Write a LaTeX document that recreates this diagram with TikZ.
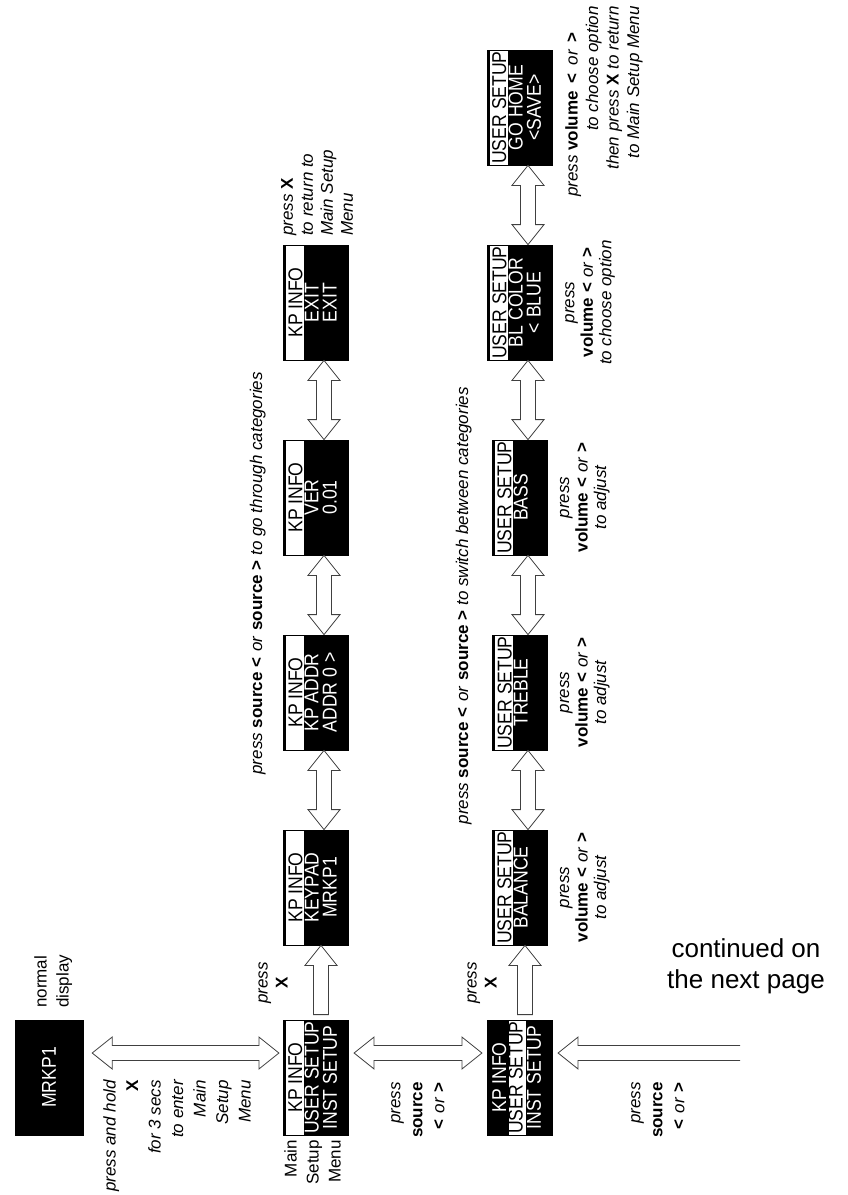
\documentclass[tikz,border=0pt]{standalone}
\usepackage{fontspec}
\setmainfont{Liberation Sans}
\newfontfamily\lcdfont{Liberation Sans}[FakeStretch=0.88]
\usetikzlibrary{calc, positioning, shapes.multipart}

% key names in bold, highlighted display row in black
\newcommand\btn[1]{\textbf{\upshape #1}}
\newcommand\hlrow[1]{\textcolor{black}{#1}}
% fixed row heights of the display
\newcommand\lcdA{\rule[-1.5pt]{0pt}{20pt}}
\newcommand\lcdB{\rule[-3.5pt]{0pt}{16.5pt}}
\newcommand\lcdC{\rule[-11.5pt]{0pt}{15pt}}
% hollow arrow sizes
\newcommand\shaftw{7.5pt}
\newcommand\headw{16pt}
\newcommand\headl{20pt}

\begin{document}
\begin{tikzpicture}[
    x=1pt, y=-1pt,
    lcd/.style={rectangle split, rectangle split parts=3, rotate=90,
                draw=black, line width=0.8pt, inner sep=0pt,
                minimum width=115pt, text=white,
                font=\lcdfont\fontsize{20pt}{18pt}\selectfont},
    hlfirst/.style={rectangle split part fill={white,black,black}},
    hlsecond/.style={rectangle split part fill={black,white,black}},
    screen/.style={rotate=90, draw=black, fill=black, text=white,
                   minimum width=115pt, minimum height=68pt, inner sep=0pt,
                   font=\lcdfont\fontsize{20pt}{18pt}\selectfont},
    lbl/.style={rotate=90, inner sep=0pt, font=\fontsize{17pt}{20pt}\selectfont\itshape},
    txt/.style={rotate=90, inner sep=0pt, font=\fontsize{17pt}{22pt}\selectfont},
    fatline/.style={draw=black!75, line width=0.8pt, fill=white},
    bothfat/.style={fatline, to path={
        -- ($(\tikztostart)!\headl!(\tikztotarget)!\headw!90:(\tikztotarget)$)
        -- ($(\tikztostart)!\headl!(\tikztotarget)!\shaftw!90:(\tikztotarget)$)
        -- ($(\tikztotarget)!\headl!(\tikztostart)!\shaftw!-90:(\tikztostart)$)
        -- ($(\tikztotarget)!\headl!(\tikztostart)!\headw!-90:(\tikztostart)$)
        -- (\tikztotarget)
        -- ($(\tikztotarget)!\headl!(\tikztostart)!\headw!90:(\tikztostart)$)
        -- ($(\tikztotarget)!\headl!(\tikztostart)!\shaftw!90:(\tikztostart)$)
        -- ($(\tikztostart)!\headl!(\tikztotarget)!\shaftw!-90:(\tikztotarget)$)
        -- ($(\tikztostart)!\headl!(\tikztotarget)!\headw!-90:(\tikztotarget)$)
        -- cycle}},
    onefat/.style={fatline, to path={
        -- ($(\tikztostart)!\shaftw!90:(\tikztotarget)$)
        -- ($(\tikztotarget)!\headl!(\tikztostart)!\shaftw!-90:(\tikztostart)$)
        -- ($(\tikztotarget)!\headl!(\tikztostart)!\headw!-90:(\tikztostart)$)
        -- (\tikztotarget)
        -- ($(\tikztotarget)!\headl!(\tikztostart)!\headw!90:(\tikztostart)$)
        -- ($(\tikztotarget)!\headl!(\tikztostart)!\shaftw!90:(\tikztostart)$)
        -- ($(\tikztostart)!\shaftw!-90:(\tikztotarget)$)
        -- cycle}},
    openfat/.style={fatline, to path={
        ($(\tikztostart)!\shaftw!90:(\tikztotarget)$)
        -- ($(\tikztotarget)!\headl!(\tikztostart)!\shaftw!-90:(\tikztostart)$)
        -- ($(\tikztotarget)!\headl!(\tikztostart)!\headw!-90:(\tikztostart)$)
        -- (\tikztotarget)
        -- ($(\tikztotarget)!\headl!(\tikztostart)!\headw!90:(\tikztostart)$)
        -- ($(\tikztotarget)!\headl!(\tikztostart)!\shaftw!90:(\tikztostart)$)
        -- ($(\tikztostart)!\shaftw!-90:(\tikztotarget)$)}},
]
\useasboundingbox (0,0) rectangle (848,1195);

% ---- normal display and main setup menu ----
\node[screen] (normal) at (49,1077.5) {MRKP1};
\node[lcd, hlfirst]  (mainA) at (316,1077.5) {\lcdA\hlrow{KP INFO}\nodepart{two}\lcdB USER SETUP\nodepart{three}\lcdC INST SETUP};
\node[lcd, hlsecond] (mainB) at (520,1077.5) {\lcdA KP INFO\nodepart{two}\lcdB\hlrow{USER SETUP}\nodepart{three}\lcdC INST SETUP};

% ---- KP INFO items ----
\node[lcd, hlfirst] (ka) at (316,887.5) {\lcdA\hlrow{KP INFO}\nodepart{two}\lcdB KEYPAD\nodepart{three}\lcdC MRKP1};
\node[lcd, hlfirst] (kb) at (316,692.5) {\lcdA\hlrow{KP INFO}\nodepart{two}\lcdB KP ADDR\nodepart{three}\lcdC ADDR 0 >};
\node[lcd, hlfirst] (kc) at (316,497.5) {\lcdA\hlrow{KP INFO}\nodepart{two}\lcdB VER\nodepart{three}\lcdC 0.01};
\node[lcd, hlfirst] (kd) at (316,302.5) {\lcdA\hlrow{KP INFO}\nodepart{two}\lcdB EXIT\nodepart{three}\lcdC EXIT};

% ---- USER SETUP items ----
\node[lcd, hlfirst] (ua) at (520,887.5) {\lcdA\hlrow{USER SETUP}\nodepart{two}\lcdB BALANCE\nodepart{three}\lcdC};
\node[lcd, hlfirst] (ub) at (520,692.5) {\lcdA\hlrow{USER SETUP}\nodepart{two}\lcdB TREBLE\nodepart{three}\lcdC};
\node[lcd, hlfirst] (uc) at (520,497.5) {\lcdA\hlrow{USER SETUP}\nodepart{two}\lcdB BASS\nodepart{three}\lcdC};
\node[lcd, hlfirst] (ud) at (520,302.5) {\lcdA\hlrow{USER SETUP}\nodepart{two}\lcdB BL COLOR\nodepart{three}\lcdC < BLUE};
\node[lcd, hlfirst] (ue) at (520,107.5) {\lcdA\hlrow{USER SETUP}\nodepart{two}\lcdB GO HOME\nodepart{three}\lcdC <SAVE>};

% thick edge above the highlighted row
\foreach \b in {mainA,ka,kb,kc,kd,ua,ub,uc,ud,ue}
    \draw[line width=3pt] ([xshift=1.5pt]\b.north west) -- ([xshift=1.5pt]\b.north east);

% ---- hollow arrows ----
\draw[bothfat] ([shift={(9pt,24.5pt)}]normal.south) to ([shift={(-4pt,24.5pt)}]mainA.north);
\draw[bothfat] ([shift={(5pt,24.5pt)}]mainA.south) to ([shift={(-5pt,24.5pt)}]mainB.north);
\coordinate (more) at (740,1053);
\draw[openfat] (more) to ([shift={(5pt,24.5pt)}]mainB.south);
\draw[onefat] ([shift={(5pt,5pt)}]mainA.east) to ([xshift=5pt]ka.west);
\draw[onefat] ([shift={(5pt,5pt)}]mainB.east) to ([xshift=5pt]ua.west);
\foreach \a/\b in {ka/kb, kb/kc, kc/kd, ua/ub, ub/uc, uc/ud, ud/ue}
    \draw[bothfat] ([xshift=8pt]\a.east) to ([xshift=8pt]\b.west);

% ---- labels ----
\node[txt, anchor=north west, align=left] (ndtxt) at (34,1008) {normal\\display};
\node[lbl, anchor=north east, align=right, font=\fontsize{17pt}{22.5pt}\selectfont\itshape]
    (holdtxt) at (103,1080) {press and hold\\\btn{X}\\for 3 secs\\to enter\\Main\\Setup\\Menu};
\node[txt, anchor=north east, align=right] (menutxt) at (284,1140) {Main\\Setup\\Menu};
\node[lbl, align=center] (pxa) at (273,983) {press\\\btn{X}};
\node[lbl, align=center] (pxb) at (482,983) {press\\\btn{X}};
\node[lbl, anchor=north east, align=right, font=\fontsize{17pt}{22pt}\selectfont\itshape]
    (srca) at (391,1082) {press\\\btn{source}\\\btn{<}\hspace{6pt}or\hspace{6pt}\btn{>}};
\node[lbl, anchor=north east, align=right, font=\fontsize{17pt}{22pt}\selectfont\itshape]
    (srcb) at (631,1082) {press\\\btn{source}\\\btn{<}\hspace{6pt}or\hspace{6pt}\btn{>}};
\node[lbl, anchor=base east] (cata) at (262,372)
    {press \btn{source <}\hspace{6pt}or\hspace{6pt}\btn{source >} to go through categories};
\node[lbl, anchor=base east] (catb) at (468,387)
    {press \btn{source <}\hspace{6pt}or\hspace{6pt}\btn{source >} to switch between categories};
\node[lbl, anchor=north west, align=left] (exittxt) at (281,236) {press \btn{X}\\to return to\\Main Setup\\Menu};
\node[lbl, anchor=north, align=center, font=\fontsize{17pt}{18.5pt}\selectfont\itshape]
    (vola) at ([xshift=12pt]ua.south) {press\\\btn{volume} \btn{<}\hspace{5pt}or\hspace{5pt}\btn{>}\\to adjust};
\node[lbl, anchor=north, align=center, font=\fontsize{17pt}{18.5pt}\selectfont\itshape]
    (volb) at ([xshift=12pt]ub.south) {press\\\btn{volume} \btn{<}\hspace{5pt}or\hspace{5pt}\btn{>}\\to adjust};
\node[lbl, anchor=north, align=center, font=\fontsize{17pt}{18.5pt}\selectfont\itshape]
    (volc) at ([xshift=12pt]uc.south) {press\\\btn{volume} \btn{<}\hspace{5pt}or\hspace{5pt}\btn{>}\\to adjust};
\node[lbl, anchor=north, align=center, font=\fontsize{17pt}{18.5pt}\selectfont\itshape]
    (vold) at ([xshift=12pt]ud.south) {press\\\btn{volume} \btn{<}\hspace{5pt}or\hspace{5pt}\btn{>}\\to choose option};
\node[lbl, anchor=north east, align=right, font=\fontsize{17pt}{20.5pt}\selectfont\itshape]
    (homtxt) at (565,6) {press \btn{volume}\hspace{8pt}\btn{<}\hspace{8pt}or\hspace{8pt}\btn{>}\hspace*{26pt}\\to choose option\\then press \btn{X} to return\\to Main Setup Menu};
\node[font=\fontsize{26pt}{31pt}\selectfont, align=center, inner sep=0pt] (conttxt) at (746,966) {continued on\\the next page};
\end{tikzpicture}
\end{document}
